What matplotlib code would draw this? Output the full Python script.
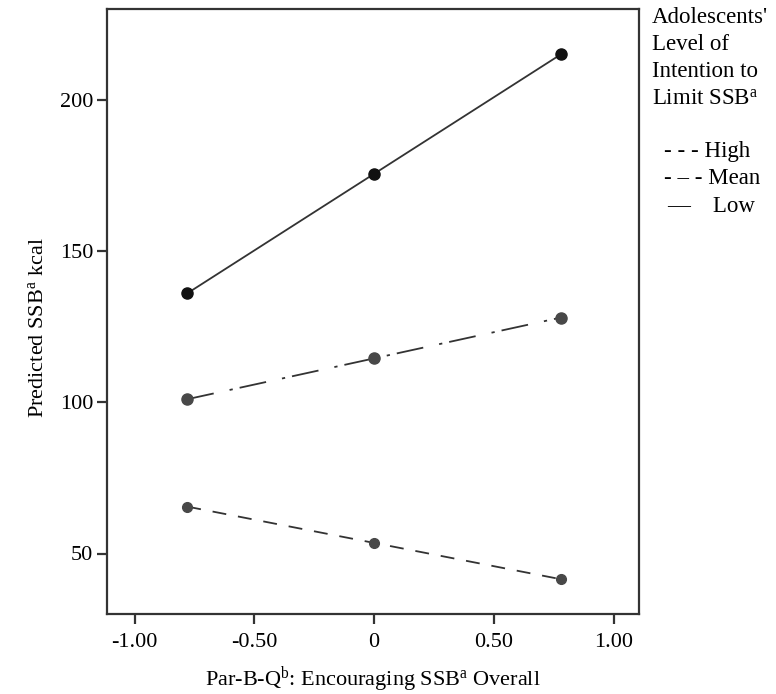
import numpy as np
import matplotlib.pyplot as plt

plt.rcParams['font.family'] = ['Liberation Serif', 'DejaVu Serif']
plt.rcParams['mathtext.fontset'] = 'custom'
plt.rcParams['mathtext.rm'] = 'Liberation Serif'
plt.rcParams['mathtext.it'] = 'Liberation Serif:italic'

# data
x_vals = [-0.78, 0.0, 0.78]
low = [136, 175.5, 215]
mean = [101, 114.5, 128]
high = [65.5, 53.5, 41.5]

x_ticks = [-1.0, -0.5, 0.0, 0.5, 1.0]
x_tick_labels = ['-1.00', '-0.50', '0', '0.50', '1.00']
y_ticks = [50, 100, 150, 200]

fig = plt.figure(figsize=(7.76, 6.94), dpi=100)
ax = fig.add_axes([107 / 776, 1 - 614 / 694, (638.7 - 107) / 776, (614 - 9) / 694])

lw = 1.3
ax.plot(x_vals, low, color='#333333', lw=lw, linestyle='-', marker='o',
        markersize=8, markerfacecolor='#111111', markeredgecolor='#111111')
ax.plot(x_vals, mean, color='#333333', lw=lw, dashes=(15, 9, 1.8, 3.9), marker='o',
        markersize=8, markerfacecolor='#484848', markeredgecolor='#484848')
ax.plot(x_vals, high, color='#333333', lw=lw, dashes=(7.7, 6.6), marker='o',
        markersize=7, markerfacecolor='#484848', markeredgecolor='#484848')

ax.set_xlim(-1.115, 1.105)
ax.set_ylim(30, 230)
ax.set_xticks(x_ticks)
ax.set_xticklabels(x_tick_labels)
ax.set_yticks(y_ticks)

for s in ax.spines.values():
    s.set_linewidth(1.6)
    s.set_color('#333333')
ax.tick_params(direction='out', length=7, width=1.6, color='#333333',
               labelsize=16, pad=3)
ax.tick_params(axis='x', pad=7)

# axis titles placed as in the original
fig.text(38 / 776, 1 - 328 / 694, 'Predicted SSB$^{\\mathrm{a}}$ kcal', fontsize=16,
         rotation=90, ha='center', va='center')
fig.text(373 / 776, 1 - 686 / 694,
         'Par-B-Q$^{\\mathrm{b}}$: Encouraging SSB$^{\\mathrm{a}}$ Overall',
         fontsize=16, ha='center', va='baseline')

# legend written as text, like the original
fig.text(652 / 776, 1 - 7 / 694,
         "Adolescents'\nLevel of\nIntention to\nLimit SSB$^{\\mathrm{a}}$",
         fontsize=16.5, va='top', ha='left', linespacing=1.38)
fig.text(664 / 776, 1 - 152 / 694, '- - - High', fontsize=16.5, va='center', ha='left')
fig.text(664 / 776, 1 - 179 / 694, '- \u2013 - Mean', fontsize=16.5, va='center', ha='left')
fig.text(667 / 776, 1 - 206 / 694, '\u2014    Low', fontsize=16.5, va='center', ha='left')

fig.savefig('out.png', dpi=100)
